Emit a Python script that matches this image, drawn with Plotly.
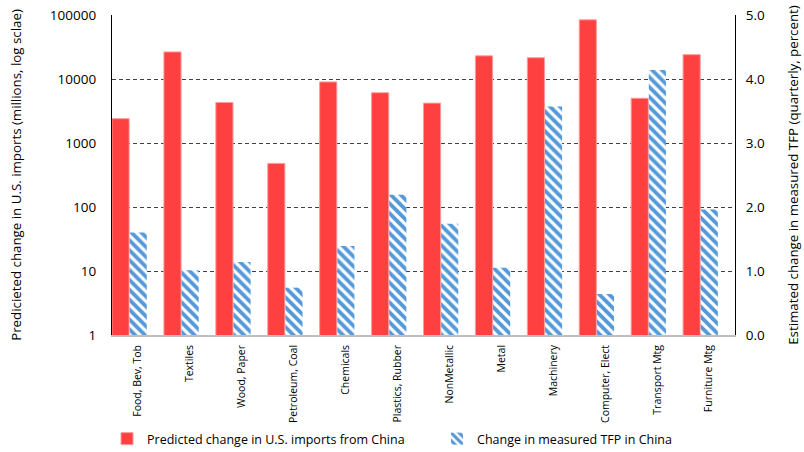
import plotly.graph_objects as go

# Sectors and the two measures plotted for each
categories = ["Food, Bev, Tob", "Textiles", "Wood, Paper", "Petroleum, Coal",
              "Chemicals", "Plastics, Rubber", "NonMetallic", "Metal",
              "Machinery", "Computer, Elect", "Transport Mtg", "Furniture Mtg"]
imports_change = [2400, 26500, 4300, 480, 9000, 6100, 4200, 23000, 21500, 84000, 5000, 24000]
tfp_change = [1.60, 1.01, 1.14, 0.74, 1.39, 2.19, 1.74, 1.05, 3.57, 0.64, 4.14, 1.96]

left_ticks = [1, 10, 100, 1000, 10000, 100000]
left_tick_text = ["1", "10", "100", "1000", "10000", "100000"]
right_ticks = [0, 1, 2, 3, 4, 5]
right_tick_text = ["0.0", "1.0", "2.0", "3.0", "4.0", "5.0"]

FONT = "Open Sans"
RED = "#FF4040"
BLUE = "#5599D8"

fig = go.Figure()

fig.add_trace(go.Bar(
    x=categories, y=imports_change, yaxis="y",
    name="Predicted change in U.S. imports from China",
    marker=dict(color=RED, line=dict(color="#FF9A9A", width=1)),
    width=0.33, offset=-0.5,
))

fig.add_trace(go.Bar(
    x=categories, y=tfp_change, yaxis="y2",
    name="Change in measured TFP in China",
    marker=dict(color="white", line=dict(color="white", width=0),
                pattern=dict(shape="\\", fgcolor=BLUE, bgcolor="white",
                             fgopacity=1, size=7, solidity=0.55)),
    width=0.33, offset=-0.16,
))

grid_dash = "4px,3px"

fig.update_layout(
    width=804, height=452,
    margin=dict(l=112, r=69, t=15, b=117, autoexpand=False),
    paper_bgcolor="white", plot_bgcolor="white",
    barmode="overlay",
    font=dict(family=FONT, color="#000000"),
    showlegend=True,
    legend=dict(orientation="h", x=-0.008, y=-0.325, xanchor="left", yanchor="middle",
                font=dict(size=12.5, family=FONT), entrywidth=285,
                itemclick=False, itemdoubleclick=False),
    xaxis=dict(
        type="category", range=[-0.5, 11.5], automargin=False,
        tickangle=-90, tickfont=dict(size=10.5, family=FONT),
        showline=True, linecolor="#BFBFBF", linewidth=1.5,
        showgrid=False, ticks="", ticklabelstandoff=4,
    ),
    yaxis=dict(
        type="log", range=[0, 5], automargin=False,
        tickvals=left_ticks, ticktext=left_tick_text,
        tickfont=dict(size=13.5, family=FONT),
        showline=True, linecolor="#000000", linewidth=1.2,
        showgrid=True, gridcolor="#404040", gridwidth=1, griddash=grid_dash,
        ticks="", ticklabelstandoff=12,
        title=dict(text="Predicieted change in U.S. imports (millions, log sclae)",
                   font=dict(size=13.3, family=FONT), standoff=25),
        zeroline=False,
    ),
    yaxis2=dict(
        overlaying="y", side="right", range=[0, 5], automargin=False,
        tickvals=right_ticks, ticktext=right_tick_text,
        tickfont=dict(size=13.5, family=FONT),
        showline=True, linecolor="#000000", linewidth=1.2,
        showgrid=False, zeroline=False,
        ticks="", ticklabelstandoff=7,
        title=dict(text="Estimated change in measured TFP (quarterly, percent)",
                   font=dict(size=13.3, family=FONT), standoff=24),
    ),
)

fig.write_html("out.html")
